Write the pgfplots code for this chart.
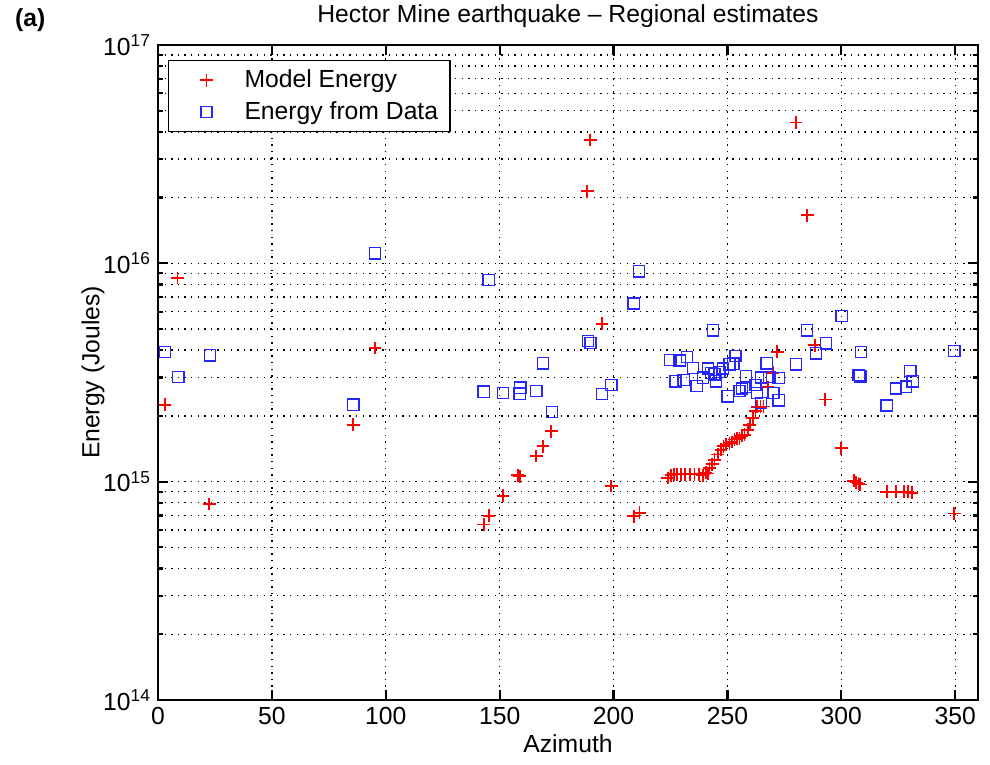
\documentclass[border=0pt]{standalone}
\usepackage{fontspec}
\setmainfont{Liberation Sans}
\usepackage{pgfplots}
\pgfplotsset{compat=1.18}
\begin{document}
\begin{tikzpicture}
\useasboundingbox (-79bp,-32.5bp) rectangle (416bp,350bp);
\begin{axis}[
  scale only axis, width=410bp, height=327.5bp,
  xmin=0, xmax=360, ymode=log, ymin=1e14, ymax=1e17,
  xtick={0,50,...,350},
  ytick={1e14,1e15,1e16,1e17},
  yticklabels={10\textsuperscript{14},10\textsuperscript{15},10\textsuperscript{16},10\textsuperscript{17}},
  minor ytick={2e14,3e14,4e14,5e14,6e14,7e14,8e14,9e14,2e15,3e15,4e15,5e15,6e15,7e15,8e15,9e15,2e16,3e16,4e16,5e16,6e16,7e16,8e16,9e16},
  /pgf/number format/assume math mode=true,
  grid=both,
  major grid style={black, line width=0.7bp, dash pattern=on 0.7bp off 2.6bp},
  minor grid style={black, line width=0.7bp, dash pattern=on 0.7bp off 2.6bp},
  tick align=inside,
  major tick length=5bp, minor tick length=2.5bp,
  every tick/.style={black, line width=1.1bp},
  axis line style={line width=1.4bp},
  tick label style={font=\fontsize{12.4}{14}\selectfont},
  label style={font=\fontsize{12.4}{14}\selectfont},
  title style={font=\fontsize{12.4}{14}\selectfont, yshift=-1bp},
  title={Hector Mine earthquake -- Regional estimates},
  xlabel={Azimuth},
  ylabel={Energy (Joules)},
  xlabel style={yshift=2bp},
  ylabel style={yshift=-7.5bp},
  legend style={at={(0.012,0.977)}, anchor=north west, draw=black, line width=0.7bp,
    font=\fontsize{12.4}{14}\selectfont, cells={anchor=west},
    inner xsep=4bp, inner ysep=2.5bp, row sep=1.5bp},
  legend image code/.code={\path[mark repeat=2,mark phase=2,#1] plot coordinates {(0bp,0bp) (15bp,0bp) (32bp,0bp)};},
]
\addplot[draw=none, mark=+, mark size=3.2bp, mark options={draw=red, line width=0.9bp, solid}] coordinates {
(3.1,2.25e15) (8.6,8.57e15) (22.5,7.9e14) (85.7,1.82e15) (95.3,4.09e15)
(143,6.36e14) (145.3,6.97e14) (151.5,8.63e14) (158,1.07e15) (158.8,1.06e15)
(166.1,1.31e15) (169,1.45e15) (172.7,1.70e15) (188.5,2.14e16) (189.8,3.67e16)
(194.9,5.29e15) (199,9.55e14) (208.8,6.95e14) (211.4,7.2e14)
(223.8,1.04e15) (225.3,1.07e15) (226.5,1.08e15) (228,1.08e15) (229.5,1.08e15)
(231.5,1.08e15) (233.5,1.08e15) (235.5,1.08e15) (237.5,1.08e15) (239.2,1.07e15)
(240.5,1.10e15) (241.4,1.09e15) (242.1,1.15e15) (243.3,1.20e15) (244.3,1.26e15)
(245.8,1.33e15) (247.2,1.40e15) (248.3,1.45e15) (249.4,1.48e15) (250.9,1.50e15)
(252,1.52e15) (253.1,1.56e15) (254.2,1.58e15) (255.3,1.58e15) (256.3,1.62e15)
(257.5,1.64e15) (258.9,1.73e15) (259.8,1.82e15) (261.1,1.95e15) (262.3,2.10e15)
(263,2.20e15) (264.5,2.20e15) (265.8,2.21e15) (267.7,2.71e15) (269.9,3.15e15)
(271.8,3.94e15) (280.1,4.41e16) (285,1.66e16) (288.3,4.22e15) (293,2.38e15)
(299.9,1.42e15) (305.5,1.01e15) (306.5,0.99e15) (307.5,0.98e15) (308.3,0.97e15)
(319.9,9.0e14) (324,9.0e14) (327.5,9.0e14) (329.1,9.0e14) (331,8.9e14)
(349.6,7.15e14)
};
\addlegendentry{Model Energy}
\addplot[draw=none, mark=square, mark size=2.8bp, mark options={draw=blue!85!white, line width=0.7bp, solid}] coordinates {
(3.1,3.93e15) (8.9,3.02e15) (22.8,3.79e15) (85.7,2.25e15) (95.3,1.11e16)
(143,2.58e15) (145.2,8.4e15) (151.5,2.55e15) (158.8,2.53e15) (159.1,2.69e15)
(166.1,2.60e15) (169,3.48e15) (172.9,2.08e15) (188.7,4.41e15) (189.9,4.31e15)
(194.9,2.52e15) (199,2.77e15) (208.8,6.55e15) (211.1,9.19e15)
(224.9,3.60e15) (227.2,2.88e15) (229,3.59e15) (230.8,2.92e15) (232.2,3.72e15)
(234.8,3.32e15) (236.5,2.74e15) (239.2,2.99e15) (241.4,3.30e15) (242.8,3.15e15)
(243.6,4.93e15) (244.3,3.10e15) (245,2.88e15) (246.5,3.18e15) (248,3.30e15)
(250.1,2.46e15) (250.9,3.45e15) (252.6,3.47e15) (253.5,3.76e15) (255.3,2.60e15)
(256.4,2.67e15) (258.2,3.04e15) (258.2,2.71e15) (262.3,2.77e15) (262.9,2.55e15)
(264.8,3.0e15) (264.8,2.29e15) (267.2,3.48e15) (268.4,3.02e15) (270.2,2.55e15)
(272.5,2.98e15) (272.5,2.36e15) (280.1,3.45e15) (285,4.93e15) (288.9,3.87e15)
(293.3,4.30e15) (300.2,5.74e15) (307.6,3.08e15) (308.3,3.04e15) (308.6,3.93e15)
(319.9,2.23e15) (324,2.67e15) (328.4,2.72e15) (330.3,3.21e15) (331.3,2.88e15)
(349.6,3.96e15)
};
\addlegendentry{Energy from Data}
\end{axis}
\node[anchor=west, font=\fontsize{12.4}{14}\selectfont\bfseries] at (-75bp,340bp) {(a)};
\end{tikzpicture}
\end{document}
